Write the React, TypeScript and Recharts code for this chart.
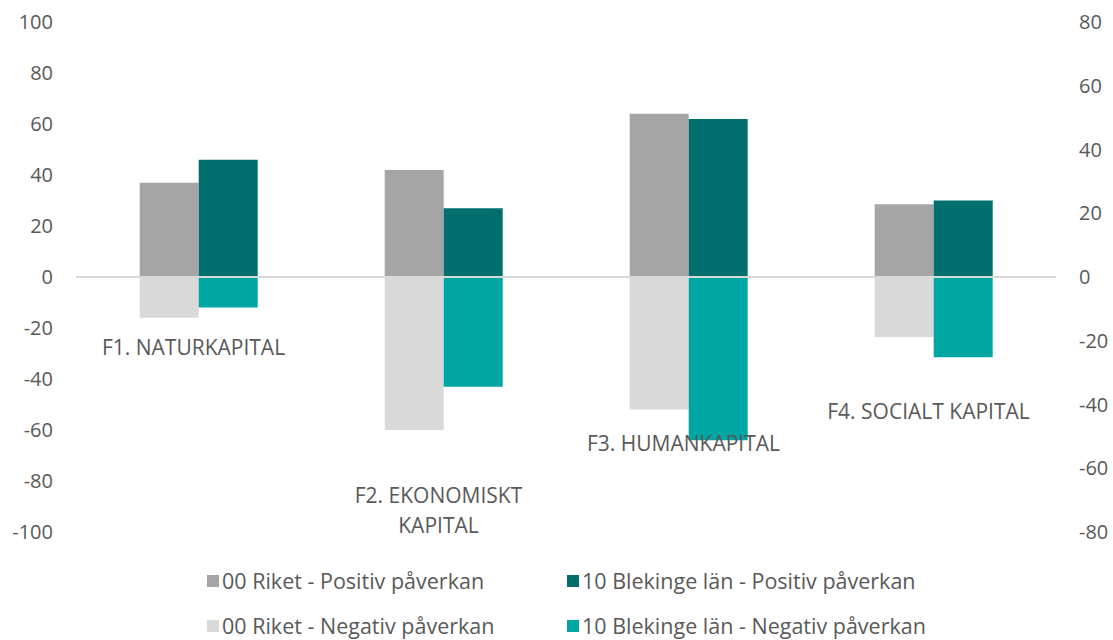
import { Bar, ComposedChart, Legend, ReferenceLine, Scatter, XAxis, YAxis } from "recharts";

// Kategorier (F2 bryts på två rader i originalet)
const categories = ["F1. NATURKAPITAL", "F2. EKONOMISKT\nKAPITAL", "F3. HUMANKAPITAL", "F4. SOCIALT KAPITAL"];
const riketPositiv = [37, 42, 64, 28.5];
const riketNegativ = [-16, -60, -52, -23.5];
const blekingePositiv = [46, 27, 62, 30];
const blekingeNegativ = [-12, -43, -64, -31.5];
// etikettposition på sekundäraxeln
const labelPos = [-22, -73, -52, -42];

const leftTicks = [-100, -80, -60, -40, -20, 0, 20, 40, 60, 80, 100];
const rightTicks = [-80, -60, -40, -20, 0, 20, 40, 60, 80];

const seriesNames = [
    "00 Riket - Positiv påverkan",
    "10 Blekinge län - Positiv påverkan",
    "00 Riket - Negativ påverkan",
    "10 Blekinge län - Negativ påverkan",
];
const colors = ["#A5A5A5", "#006F6E", "#D9D9D9", "#00A6A4"];

const data = categories.map((name, i) => ({
    name,
    riketPos: riketPositiv[i],
    riketNeg: riketNegativ[i],
    blekPos: blekingePositiv[i],
    blekNeg: blekingeNegativ[i],
    labelPos: labelPos[i],
}));

const textColor = "#595959";
const font = "'Open Sans', sans-serif";

const CategoryLabel = (props: any) => {
    const { cx, cy, payload } = props;
    const lines: string[] = String(payload.name).split("\n");
    const lh = 30;
    const x = cx - 5;
    const y0 = cy - ((lines.length - 1) * lh) / 2;
    return (
        <text x={x} y={y0} textAnchor="middle" fill={textColor} fontSize={21} fontFamily={font} dominantBaseline="central">
            {lines.map((l, i) => (
                <tspan key={i} x={x} y={y0 + i * lh} dominantBaseline="central">{l}</tspan>
            ))}
        </text>
    );
};

const renderLegend = () => {
    const cols = [207, 567];
    const rows = [49, 94];
    return (
        <div style={{ position: "relative", height: 100, width: 1113, fontFamily: font, fontSize: 21.5, color: textColor }}>
            {seriesNames.map((n, i) => (
                <div
                    key={n}
                    style={{
                        position: "absolute",
                        left: cols[i % 2],
                        top: rows[Math.floor(i / 2)] - 14,
                        height: 28,
                        lineHeight: "28px",
                        display: "flex",
                        alignItems: "center",
                        whiteSpace: "nowrap",
                    }}
                >
                    <span style={{ display: "inline-block", width: 12, height: 12, background: colors[i], marginRight: 3 }} />
                    {n}
                </div>
            ))}
        </div>
    );
};

export default function App() {
    return (
        <div style={{ position: "fixed", top: 0, left: 0, width: 1113, height: 640, background: "#fff" }}>
            <ComposedChart
                width={1113}
                height={640}
                data={data}
                stackOffset="sign"
                barCategoryGap="26%"
                barGap={0}
                margin={{ top: 22, right: 0, bottom: 8, left: 0 }}
                style={{ fontFamily: font }}
            >
                <XAxis dataKey="name" hide />
                <YAxis
                    yAxisId="left"
                    domain={[-100, 100]}
                    ticks={leftTicks}
                    width={76}
                    axisLine={false}
                    tickLine={false}
                    tickSize={0}
                    tickMargin={23}
                    tick={{ fill: textColor, fontSize: 20 }}
                />
                <YAxis
                    yAxisId="right"
                    orientation="right"
                    domain={[-80, 80]}
                    ticks={rightTicks}
                    width={57}
                    axisLine={false}
                    tickLine={false}
                    tickSize={0}
                    tickMargin={23}
                    tick={{ fill: textColor, fontSize: 20, textAnchor: "start" }}
                />
                <ReferenceLine yAxisId="left" y={0} stroke="#D9D9D9" strokeWidth={2} />
                <Bar yAxisId="left" dataKey="riketPos" stackId="riket" fill={colors[0]} isAnimationActive={false} />
                <Bar yAxisId="left" dataKey="riketNeg" stackId="riket" fill={colors[2]} isAnimationActive={false} />
                <Bar yAxisId="left" dataKey="blekPos" stackId="blek" fill={colors[1]} isAnimationActive={false} />
                <Bar yAxisId="left" dataKey="blekNeg" stackId="blek" fill={colors[3]} isAnimationActive={false} />
                <Scatter yAxisId="right" dataKey="labelPos" shape={CategoryLabel} isAnimationActive={false} legendType="none" />
                <Legend verticalAlign="bottom" content={renderLegend} wrapperStyle={{ left: 0, width: 1113 }} />
            </ComposedChart>
        </div>
    );
}
